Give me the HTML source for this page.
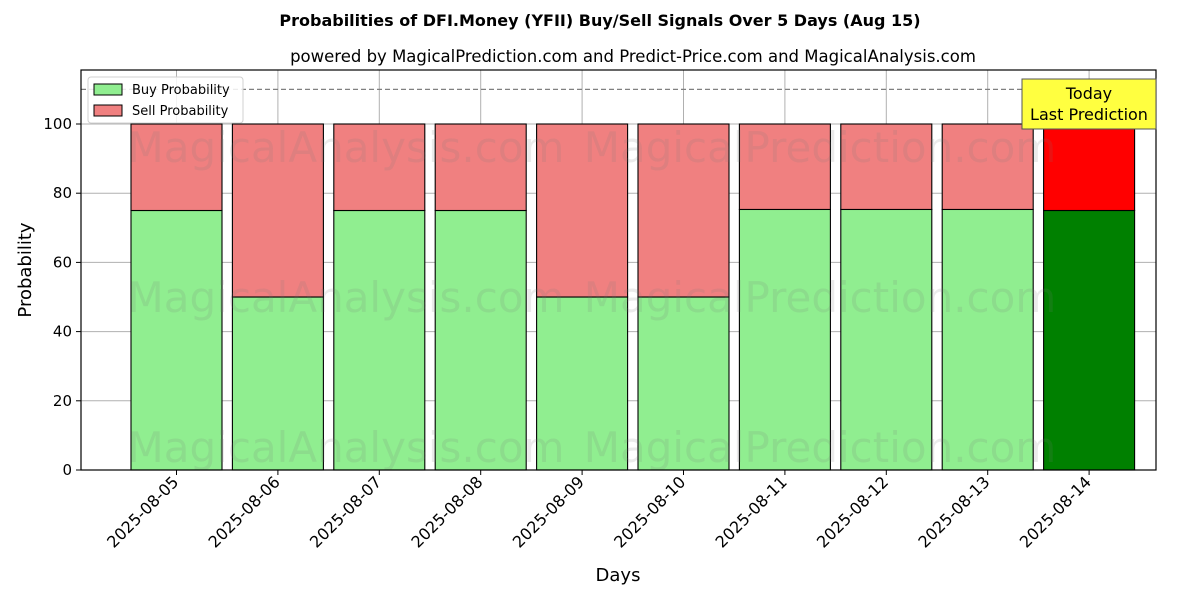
<!DOCTYPE html>
<html><head><meta charset="utf-8"><style>
body{margin:0;background:#fff;font-family:"Liberation Sans","DejaVu Sans",sans-serif}
</style></head><body>
<svg id="chart" width="1200" height="600" xmlns="http://www.w3.org/2000/svg" font-family="DejaVu Sans, Liberation Sans, sans-serif"></svg>
<script>
const categories=["2025-08-05","2025-08-06","2025-08-07","2025-08-08","2025-08-09","2025-08-10","2025-08-11","2025-08-12","2025-08-13","2025-08-14"];
const buyValues=[75,50,75,75,50,50,75.3,75.3,75.3,75];
const sellValues=[25,50,25,25,50,50,24.7,24.7,24.7,25];
const yTicks=[0,20,40,60,80,100];
const svg=document.getElementById('chart');
const NS='http://www.w3.org/2000/svg';
const L=81,R=1156,T=70,B=470;
function y(v){return 470-v*3.46;}
function x(i){return 176.5+i*101.4;}
const bw=91;
function el(tag,attrs,parent,text){const e=document.createElementNS(NS,tag);for(const k in attrs)e.setAttribute(k,attrs[k]);if(text!==undefined)e.textContent=text;(parent||svg).appendChild(e);return e;}
el('text',{x:600,y:26,'text-anchor':'middle','font-size':16,'font-weight':'bold'},null,'Probabilities of DFI.Money (YFII) Buy/Sell Signals Over 5 Days (Aug 15)');
el('text',{x:633,y:62,'text-anchor':'middle','font-size':16.5},null,'powered by MagicalPrediction.com and Predict-Price.com and MagicalAnalysis.com');
categories.forEach((c,i)=>{const g=el('line',{x1:x(i),x2:x(i),y1:T,y2:B,stroke:'#b0b0b0','stroke-width':1});});
yTicks.forEach(v=>{const g=el('line',{x1:L,x2:R,y1:y(v),y2:y(v),stroke:'#b0b0b0','stroke-width':1});});
categories.forEach((c,i)=>{
 const last=i===categories.length-1;
 const b=el('rect',{x:x(i)-bw/2,y:y(buyValues[i]),width:bw,height:y(0)-y(buyValues[i]),fill:last?'#008000':'#90ee90',stroke:'#000','stroke-width':1.1});
 
 const s=el('rect',{x:x(i)-bw/2,y:y(buyValues[i]+sellValues[i]),width:bw,height:y(buyValues[i])-y(buyValues[i]+sellValues[i]),fill:last?'#ff0000':'#f08080',stroke:'#000','stroke-width':1.1});
 
});
[[346,162,'MagicalAnalysis.com'],[820,162,'MagicalPrediction.com'],[346,312,'MagicalAnalysis.com'],[820,312,'MagicalPrediction.com'],[346,462,'MagicalAnalysis.com'],[820,462,'MagicalPrediction.com']].forEach(w=>{const t=el('text',{x:w[0],y:w[1],'text-anchor':'middle','font-size':42,fill:'rgba(120,120,120,0.15)'},null,w[2]);});
el('line',{x1:L,x2:R,y1:y(110),y2:y(110),stroke:'#808080','stroke-width':1.3,'stroke-dasharray':'5,3'});
el('rect',{x:L,y:T,width:R-L,height:B-T,fill:'none',stroke:'#000','stroke-width':1.2});
yTicks.forEach(v=>{el('line',{x1:L-5,x2:L,y1:y(v),y2:y(v),stroke:'#000'});const t=el('text',{x:L-9,y:y(v)+5,'text-anchor':'end','font-size':15},null,String(v));});
categories.forEach((c,i)=>{el('line',{x1:x(i),x2:x(i),y1:B,y2:B+5,stroke:'#000'});const tx=x(i)+3,ty=B+13;const t=el('text',{x:tx,y:ty,'text-anchor':'end','font-size':16,transform:`rotate(-45 ${tx} ${ty})`},null,c);});
el('text',{x:618,y:581,'text-anchor':'middle','font-size':18},null,'Days');
el('text',{x:31,y:270,'text-anchor':'middle','font-size':18,transform:'rotate(-90 31 270)'},null,'Probability');
const lg=el('g',{});
el('rect',{x:88,y:77,width:155,height:46,rx:3,fill:'rgba(255,255,255,0.85)',stroke:'#d0d0d0'},lg);
el('rect',{x:94,y:84,width:28,height:11,fill:'#90ee90',stroke:'#000'},lg);
el('text',{x:132,y:94,'font-size':13},lg,'Buy Probability');
el('rect',{x:94,y:105,width:28,height:11,fill:'#f08080',stroke:'#000'},lg);
el('text',{x:132,y:115,'font-size':13},lg,'Sell Probability');
const tb=el('g',{});
el('rect',{x:1022,y:79,width:134,height:50,fill:'#ffff40',stroke:'#555'},tb);
el('text',{x:1089,y:99,'text-anchor':'middle','font-size':16},tb,'Today');
el('text',{x:1089,y:120,'text-anchor':'middle','font-size':16},tb,'Last Prediction');
</script>
</body></html>
